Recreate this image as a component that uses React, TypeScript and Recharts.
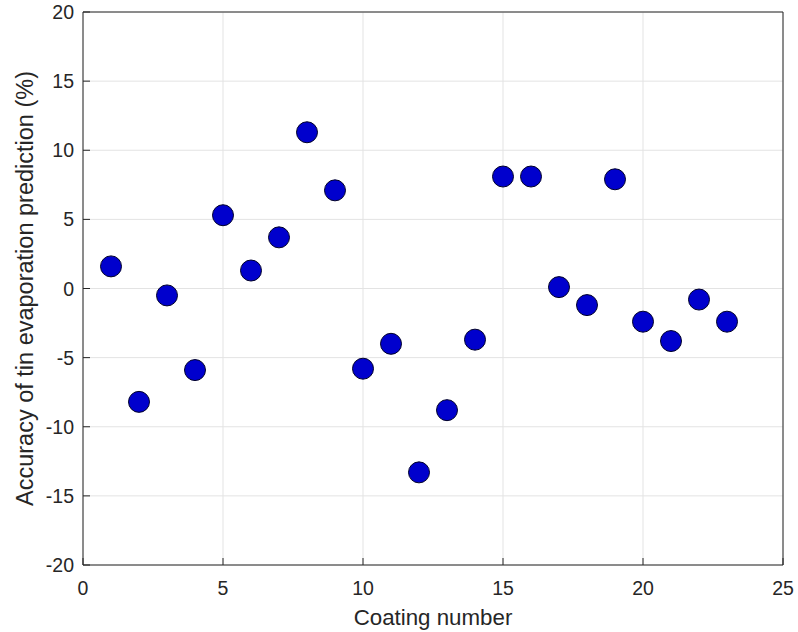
import React from 'react';
import { ScatterChart, Scatter, XAxis, YAxis, CartesianGrid, ReferenceLine } from 'recharts';

const coatingNumbers = [1, 2, 3, 4, 5, 6, 7, 8, 9, 10, 11, 12, 13, 14, 15, 16, 17, 18, 19, 20, 21, 22, 23];
const accuracy = [1.6, -8.2, -0.5, -5.9, 5.3, 1.3, 3.7, 11.3, 7.1, -5.8, -4.0, -13.3, -8.8, -3.7, 8.1, 8.1, 0.1, -1.2, 7.9, -2.4, -3.8, -0.8, -2.4];
const xTicks = [0, 5, 10, 15, 20, 25];
const yTicks = [-20, -15, -10, -5, 0, 5, 10, 15, 20];

const data = coatingNumbers.map((n, i) => ({ x: n, y: accuracy[i] }));

const FONT = '"Liberation Sans", Arial, sans-serif';
const AXIS = '#262626';

// tickSize/tickMargin are 0, so x/y here sit right on the axis line
const XTick = (props: any) => {
  const { x, y, payload } = props;
  return (
    <g>
      <line x1={x} x2={x} y1={y} y2={y - 7} stroke={AXIS} strokeWidth={1} />
      <text x={x} y={y + 30} textAnchor="middle" fontSize={19.5} fill={AXIS} fontFamily={FONT}>
        {payload.value}
      </text>
    </g>
  );
};

const YTick = (props: any) => {
  const { x, y, payload } = props;
  return (
    <g>
      <line x1={x} x2={x + 7} y1={y} y2={y} stroke={AXIS} strokeWidth={1} />
      <text x={x - 9} y={y + 7} textAnchor="end" fontSize={19.5} fill={AXIS} fontFamily={FONT}>
        {payload.value}
      </text>
    </g>
  );
};

const XLabel = (props: any) => {
  const { x, y, width, height } = props.viewBox;
  return (
    <text x={x + width / 2} y={y + height - 7} textAnchor="middle" fontSize={22.3} fill={AXIS} fontFamily={FONT}>
      Coating number
    </text>
  );
};

const YLabel = (props: any) => {
  const { y, height } = props.viewBox;
  const cx = 33;
  const cy = y + height / 2;
  return (
    <text
      x={cx}
      y={cy}
      transform={`rotate(-90, ${cx}, ${cy})`}
      textAnchor="middle"
      fontSize={23.5}
      fill={AXIS}
      fontFamily={FONT}
    >
      Accuracy of tin evaporation prediction (%)
    </text>
  );
};

const Dot = (props: any) => {
  const { cx, cy } = props;
  return <circle cx={cx} cy={cy} r={10.5} fill="#0000CD" stroke="#00002A" strokeWidth={1} />;
};

export default function App() {
  return (
    <div style={{ position: 'absolute', left: 0, top: 0, width: 798, height: 632, background: '#fff' }}>
      <ScatterChart width={798} height={632} margin={{ top: 12, right: 15, bottom: 0, left: 0 }}>
        <CartesianGrid stroke="#e3e3e3" strokeWidth={1} />
        <XAxis
          type="number"
          dataKey="x"
          domain={[0, 25]}
          ticks={xTicks}
          height={67}
          axisLine={{ stroke: AXIS, strokeWidth: 1 }}
          tickLine={false}
          tickSize={0}
          tickMargin={0}
          tick={<XTick />}
          label={<XLabel />}
        />
        <YAxis
          type="number"
          dataKey="y"
          domain={[-20, 20]}
          ticks={yTicks}
          width={83}
          axisLine={{ stroke: AXIS, strokeWidth: 1 }}
          tickLine={false}
          tickSize={0}
          tickMargin={0}
          tick={<YTick />}
          label={<YLabel />}
        />
        <ReferenceLine y={20} stroke={AXIS} strokeWidth={1} />
        <ReferenceLine x={25} stroke={AXIS} strokeWidth={1} />
        <Scatter data={data} shape={<Dot />} isAnimationActive={false} />
      </ScatterChart>
    </div>
  );
}
